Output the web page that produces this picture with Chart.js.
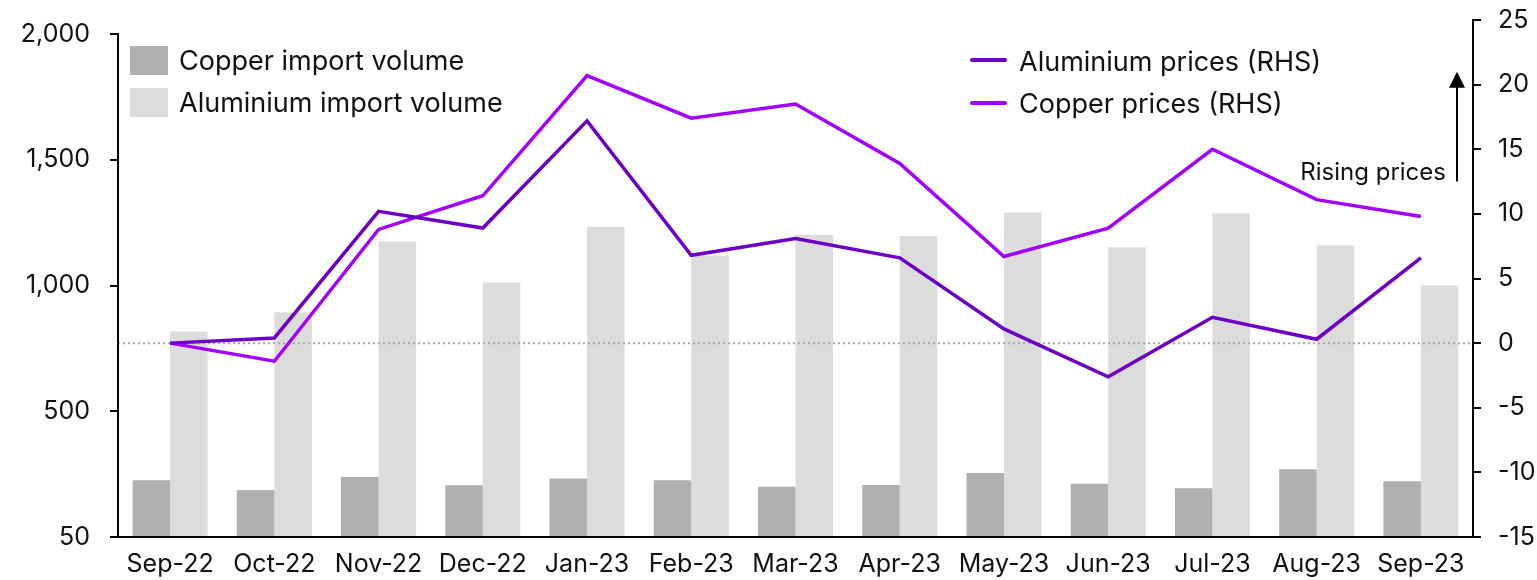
<!DOCTYPE html>
<html>
<head>
<meta charset="utf-8">
<script src="https://cdn.jsdelivr.net/npm/chart.js@4.4.1/dist/chart.umd.min.js"></script>
<style>
  body { margin: 0; background: #fff; font-family: Inter, sans-serif; }
  #wrap { position: relative; width: 1537px; height: 580px; }
  .lg { position: absolute; font-size: 27px; line-height: 30px; color: #111; white-space: nowrap; }
  .sw { position: absolute; width: 38px; height: 29px; }
  .ln { position: absolute; width: 37px; height: 4px; border-radius: 2px; }
</style>
</head>
<body>
<div id="wrap">
  <canvas id="chart" width="1537" height="580"></canvas>

  <!-- legend, left -->
  <div class="sw" style="left:130px; top:46px; background:#b0b0b0"></div>
  <div class="lg" style="left:179px; top:46px">Copper import volume</div>
  <div class="sw" style="left:130px; top:88px; background:#dcdcdc"></div>
  <div class="lg" style="left:179px; top:88px">Aluminium import volume</div>

  <!-- legend, right -->
  <div class="ln" style="left:970px; top:58px; background:#6c00c4"></div>
  <div class="lg" style="left:1019px; top:47px">Aluminium prices (RHS)</div>
  <div class="ln" style="left:970px; top:101px; background:#a200ff"></div>
  <div class="lg" style="left:1019px; top:89px">Copper prices (RHS)</div>

  <div class="lg" style="right:91px; top:157px; font-size:24px">Rising prices</div>
</div>

<script>
var categories = ['Sep-22', 'Oct-22', 'Nov-22', 'Dec-22', 'Jan-23', 'Feb-23', 'Mar-23',
                  'Apr-23', 'May-23', 'Jun-23', 'Jul-23', 'Aug-23', 'Sep-23'];

// import volumes (LHS)
var copperVolume    = [226, 187, 239, 206, 233, 226, 200, 207, 255, 212, 194, 269, 222];
var aluminiumVolume = [817, 894, 1175, 1012, 1234, 1119, 1202, 1197, 1290, 1152, 1287, 1160, 1000];

// prices, % (RHS)
var aluminiumPrices = [0, 0.4, 10.2, 8.9, 17.2, 6.8, 8.1, 6.6, 1.1, -2.6, 2.0, 0.3, 6.6];
var copperPrices    = [0, -1.4, 8.8, 11.4, 20.7, 17.4, 18.5, 13.9, 6.7, 8.9, 15.0, 11.1, 9.8];

// tick labels
var leftTickValues = [0, 500, 1000, 1500, 2000];
var leftTickLabels = ['50', '500', '1,000', '1,500', '2,000'];
var rightTickValues = [-15, -10, -5, 0, 5, 10, 15, 20, 25];


var tickFont = { family: 'Inter', size: 25 };

/* extra bits: dotted zero line, short left axis line, arrow */
var extras = {
  id: 'extras',
  afterDatasetDraw: function (chart, args) {
    if (args.index !== 0) return;
    var ctx = chart.ctx, area = chart.chartArea;
    var y0 = chart.scales.y1.getPixelForValue(0);
    ctx.save();
    ctx.strokeStyle = '#a6a6a6';
    ctx.lineWidth = 2;
    ctx.setLineDash([2, 3]);
    ctx.beginPath();
    ctx.moveTo(area.left, y0);
    ctx.lineTo(area.right, y0);
    ctx.stroke();
    ctx.restore();
  },
  afterDraw: function (chart) {
    var ctx = chart.ctx, area = chart.chartArea;
    var y = chart.scales.y, y1 = chart.scales.y1;
    ctx.save();
    // left axis line only up to the top tick
    ctx.strokeStyle = '#000';
    ctx.lineWidth = 2;
    ctx.beginPath();
    ctx.moveTo(area.left, y.getPixelForValue(2000) - 1);
    ctx.lineTo(area.left, area.bottom + 1);
    ctx.stroke();

    // rising prices arrow
    var ax = area.right - 16;
    var yBot = y1.getPixelForValue(12.5), yTop = y1.getPixelForValue(21);
    ctx.beginPath();
    ctx.moveTo(ax, yBot);
    ctx.lineTo(ax, yTop + 12);
    ctx.stroke();
    ctx.fillStyle = '#000';
    ctx.beginPath();
    ctx.moveTo(ax, yTop);
    ctx.lineTo(ax - 8, yTop + 16);
    ctx.lineTo(ax + 8, yTop + 16);
    ctx.closePath();
    ctx.fill();
    ctx.restore();
  }
};

function noPad(scale) {
  scale.paddingTop = 0;
  scale.paddingBottom = 0;
}

var ctx = document.getElementById('chart').getContext('2d');
var chart = new Chart(ctx, {
  type: 'bar',
  data: {
    labels: categories,
    datasets: [{
      label: 'Copper import volume',
      data: copperVolume,
      backgroundColor: '#b0b0b0',
      yAxisID: 'y',
      order: 2
    }, {
      label: 'Aluminium import volume',
      data: aluminiumVolume,
      backgroundColor: '#dcdcdc',
      yAxisID: 'y',
      order: 2
    }, {
      type: 'line',
      label: 'Aluminium prices (RHS)',
      data: aluminiumPrices,
      borderColor: '#6c00c4',
      borderWidth: 3.5,
      pointRadius: 0,
      tension: 0,
      yAxisID: 'y1',
      order: 1
    }, {
      type: 'line',
      label: 'Copper prices (RHS)',
      data: copperPrices,
      borderColor: '#a200ff',
      borderWidth: 3.5,
      pointRadius: 0,
      tension: 0,
      yAxisID: 'y1',
      order: 1
    }]
  },
  options: {
    responsive: false,
    animation: false,
    categoryPercentage: 0.72,
    barPercentage: 1.0,
    layout: { padding: { top: 20, left: 0, right: 0, bottom: 0 } },
    plugins: {
      legend: { display: false },
      tooltip: { enabled: false }
    },
    scales: {
      x: {
        grid: { display: false, drawTicks: false },
        border: { display: true, color: '#000', width: 2 },
        ticks: { font: tickFont, color: '#111', padding: 12, maxRotation: 0, autoSkip: false },
        afterFit: function (scale) { scale.height = 43; scale.paddingLeft = 0; scale.paddingRight = 0; }
      },
      y: {
        position: 'left',
        min: 0,
        max: 2056,
        afterBuildTicks: function (scale) {
          scale.ticks = leftTickValues.map(function (v) { return { value: v }; });
        },
        ticks: {
          font: tickFont, color: '#111', padding: 20,
          callback: function (value) {
            var i = leftTickValues.indexOf(value);
            return i >= 0 ? leftTickLabels[i] : '';
          }
        },
        grid: { drawOnChartArea: false, drawTicks: true, tickLength: 8, color: '#000', lineWidth: 2 },
        border: { display: false },
        afterFit: function (scale) { scale.width = 118; noPad(scale); }
      },
      y1: {
        position: 'right',
        min: -15,
        max: 25,
        afterBuildTicks: function (scale) {
          scale.ticks = rightTickValues.map(function (v) { return { value: v }; });
        },
        ticks: { font: tickFont, color: '#111', padding: 17 },
        grid: { drawOnChartArea: false, drawTicks: true, tickLength: 8, color: '#000', lineWidth: 2 },
        border: { display: true, color: '#000', width: 2 },
        afterFit: function (scale) { scale.width = 64; noPad(scale); }
      }
    }
  },
  plugins: [extras]
});
</script>
</body>
</html>
